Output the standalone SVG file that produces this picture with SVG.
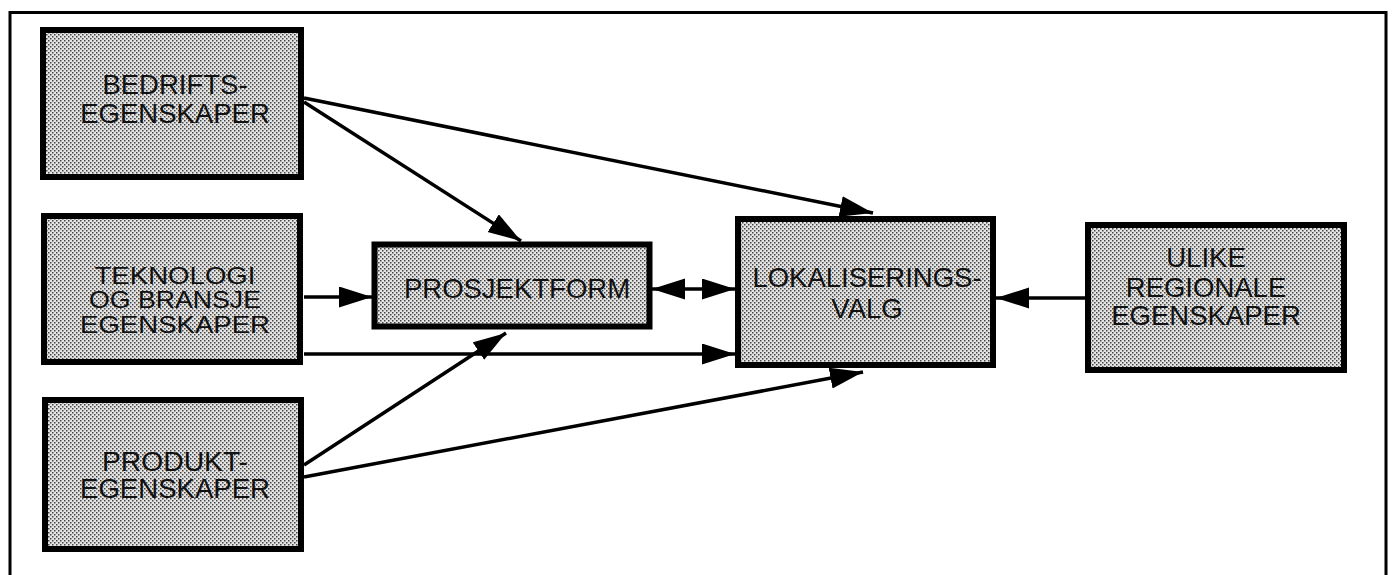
<svg xmlns="http://www.w3.org/2000/svg" width="1396" height="575" viewBox="0 0 1396 575">
<style>
.box{fill:url(#dots);stroke:#000;stroke-width:6}
.lbl{font-family:"Liberation Sans",Arial,sans-serif;font-size:27.5px;fill:#111;text-anchor:middle}
.con{stroke:#000;stroke-width:3.5;fill:none}
</style>
<defs>
<pattern id="dots" width="4" height="4" patternUnits="userSpaceOnUse">
<rect width="4" height="4" fill="#e4e4e4"/>
<rect x="0" y="0" width="1.5" height="1.5" fill="#444"/>
<rect x="2" y="2" width="1.5" height="1.5" fill="#444"/>
</pattern>
<marker id="ah" markerUnits="userSpaceOnUse" markerWidth="34" markerHeight="22" refX="33" refY="10.5" orient="auto-start-reverse">
<path d="M0,0 L33,10.5 L0,21 z" fill="#000"/>
</marker>
</defs>
<path d="M10,580 L10,12.5 L1386,12.5 L1386,580" fill="none" stroke="#000" stroke-width="3"/>
<g id="connectors">
<line class="con" x1="304" y1="98" x2="873" y2="213" marker-end="url(#ah)"/>
<line class="con" x1="304" y1="102" x2="521" y2="241" marker-end="url(#ah)"/>
<line class="con" x1="304" y1="297" x2="372" y2="297" marker-end="url(#ah)"/>
<line class="con" x1="304" y1="354" x2="735" y2="354" marker-end="url(#ah)"/>
<line class="con" x1="304" y1="465" x2="506" y2="333" marker-end="url(#ah)"/>
<line class="con" x1="304" y1="477" x2="863" y2="372" marker-end="url(#ah)"/>
<line class="con" x1="652" y1="289" x2="735" y2="289" marker-start="url(#ah)" marker-end="url(#ah)"/>
<line class="con" x1="1085" y1="298" x2="996" y2="298" marker-end="url(#ah)"/>
</g>
<g id="bedrifts">
<rect class="box" x="43" y="30" width="258" height="147"/>
<text class="lbl"><tspan x="175" y="94">BEDRIFTS-</tspan><tspan x="175" y="123">EGENSKAPER</tspan></text>
</g>
<g id="teknologi">
<rect class="box" x="44" y="216" width="256" height="146"/>
<text class="lbl" style="font-size:24px"><tspan x="175" y="283.5" textLength="161" lengthAdjust="spacingAndGlyphs">TEKNOLOGI</tspan><tspan x="175" y="308" textLength="172" lengthAdjust="spacingAndGlyphs">OG BRANSJE</tspan><tspan x="175" y="332.5" textLength="190" lengthAdjust="spacingAndGlyphs">EGENSKAPER</tspan></text>
</g>
<g id="produkt">
<rect class="box" x="45" y="400" width="256" height="149"/>
<text class="lbl" style="font-size:27px"><tspan x="175" y="470.5" textLength="146" lengthAdjust="spacingAndGlyphs">PRODUKT-</tspan><tspan x="175" y="498" textLength="190" lengthAdjust="spacingAndGlyphs">EGENSKAPER</tspan></text>
</g>
<g id="prosjektform">
<rect class="box" x="374.5" y="244.5" width="275" height="82"/>
<text class="lbl" x="517" y="298">PROSJEKTFORM</text>
</g>
<g id="lokalisering">
<rect class="box" x="738" y="219" width="255" height="146"/>
<text class="lbl"><tspan x="867" y="287">LOKALISERINGS-</tspan><tspan x="867" y="318">VALG</tspan></text>
</g>
<g id="ulike">
<rect class="box" x="1088" y="225" width="256" height="145"/>
<text class="lbl"><tspan x="1206" y="267">ULIKE</tspan><tspan x="1206" y="297">REGIONALE</tspan><tspan x="1206" y="325">EGENSKAPER</tspan></text>
</g>
</svg>
